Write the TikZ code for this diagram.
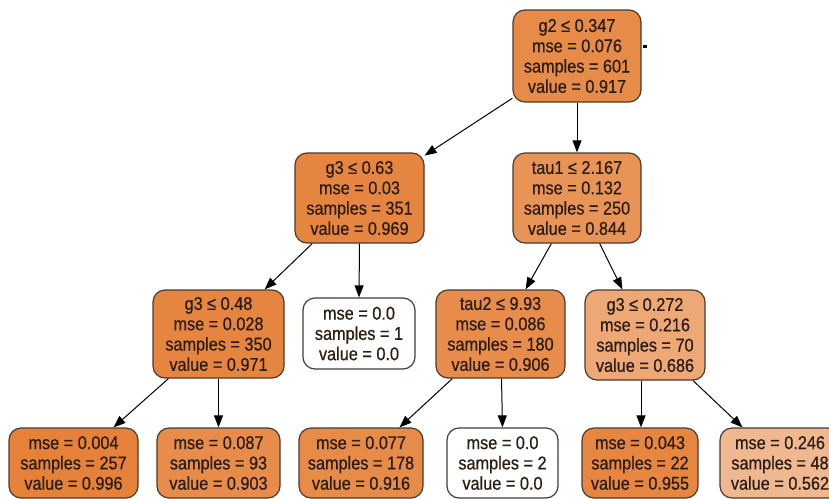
\documentclass[tikz,border=0pt]{standalone}
\usepackage{fontspec}
\setmainfont[FakeStretch=0.88,FakeBold=0.6]{Liberation Sans}
\usetikzlibrary{arrows.meta}
\definecolor{leaf}{HTML}{E58139}
\definecolor{edgeline}{HTML}{4A3A2F}
\definecolor{ink}{HTML}{2B1D12}
\tikzset{
  treenode/.style={draw=edgeline, line width=1.2pt, rounded corners=12pt,
    align=center, inner sep=0pt, text=ink,
    font=\fontsize{18.5}{20.3}\selectfont},
  split/.style={treenode, minimum height=90pt},
  final/.style={treenode, minimum height=70pt},
  link/.style={draw=black, line width=1pt, -{Triangle[length=12pt,width=9pt]}}
}
\begin{document}
\begin{tikzpicture}[x=1pt,y=-1pt]
\useasboundingbox (0,0) rectangle (829,498);
\clip (0,0) rectangle (829,498);

% internal (split) nodes
\node[split, minimum width=128pt, minimum height=92pt, fill=leaf!92!white] (root) at (577,56)
  {g2 ≤ 0.347\\mse = 0.076\\samples = 601\\value = 0.917};
\node[split, minimum width=129pt, fill=leaf!97!white] (l) at (359.5,198)
  {g3 ≤ 0.63\\mse = 0.03\\samples = 351\\value = 0.969};
\node[split, minimum width=128pt, fill=leaf!85!white] (r) at (577,198)
  {tau1 ≤ 2.167\\mse = 0.132\\samples = 250\\value = 0.844};
\node[split, minimum width=131pt, minimum height=88pt, fill=leaf!97!white] (ll) at (218.5,334)
  {g3 ≤ 0.48\\mse = 0.028\\samples = 350\\value = 0.971};
\node[final, minimum width=112pt, minimum height=71pt, fill=white] (lr) at (359,333.5)
  {mse = 0.0\\samples = 1\\value = 0.0};
\node[split, minimum width=129pt, minimum height=88pt, fill=leaf!91!white] (rl) at (500.5,334)
  {tau2 ≤ 9.93\\mse = 0.086\\samples = 180\\value = 0.906};
\node[split, minimum width=120pt, fill=leaf!69!white] (rr) at (645,335)
  {g3 ≤ 0.272\\mse = 0.216\\samples = 70\\value = 0.686};

% leaves
\node[final, minimum width=129pt, fill=leaf] (a) at (73.5,463)
  {mse = 0.004\\samples = 257\\value = 0.996};
\node[final, minimum width=123pt, fill=leaf!91!white] (b) at (218.5,463)
  {mse = 0.087\\samples = 93\\value = 0.903};
\node[final, minimum width=124pt, fill=leaf!92!white] (c) at (361,463)
  {mse = 0.077\\samples = 178\\value = 0.916};
\node[final, minimum width=111pt, fill=white] (d) at (502.5,463)
  {mse = 0.0\\samples = 2\\value = 0.0};
\node[final, minimum width=116pt, fill=leaf!96!white] (e) at (640,463)
  {mse = 0.043\\samples = 22\\value = 0.955};
\node[final, minimum width=120pt, fill=leaf!56!white] (f) at (780,463)
  {mse = 0.246\\samples = 48\\value = 0.562};

% small mark beside the root
\fill[black] ([xshift=1pt,yshift=11pt]root.east) rectangle ++(4,3);

% edges
\draw[link] (root) -- (l);
\draw[link] (root) -- (r);
\draw[link] (l) -- (ll);
\draw[link] (l.south) -- (lr.north);
\draw[link] (r) -- (rl);
\draw[link] (r) -- (rr);
\draw[link] (ll) -- (a);
\draw[link] (ll.south) -- (b.north);
\draw[link] (rl) -- (c);
\draw[link] ([xshift=1pt]rl.south) -- (d.north);
\draw[link] ([xshift=-4pt]rr.south) -- ([xshift=1pt]e.north);
\draw[link] (rr) -- (f);
\end{tikzpicture}
\end{document}
